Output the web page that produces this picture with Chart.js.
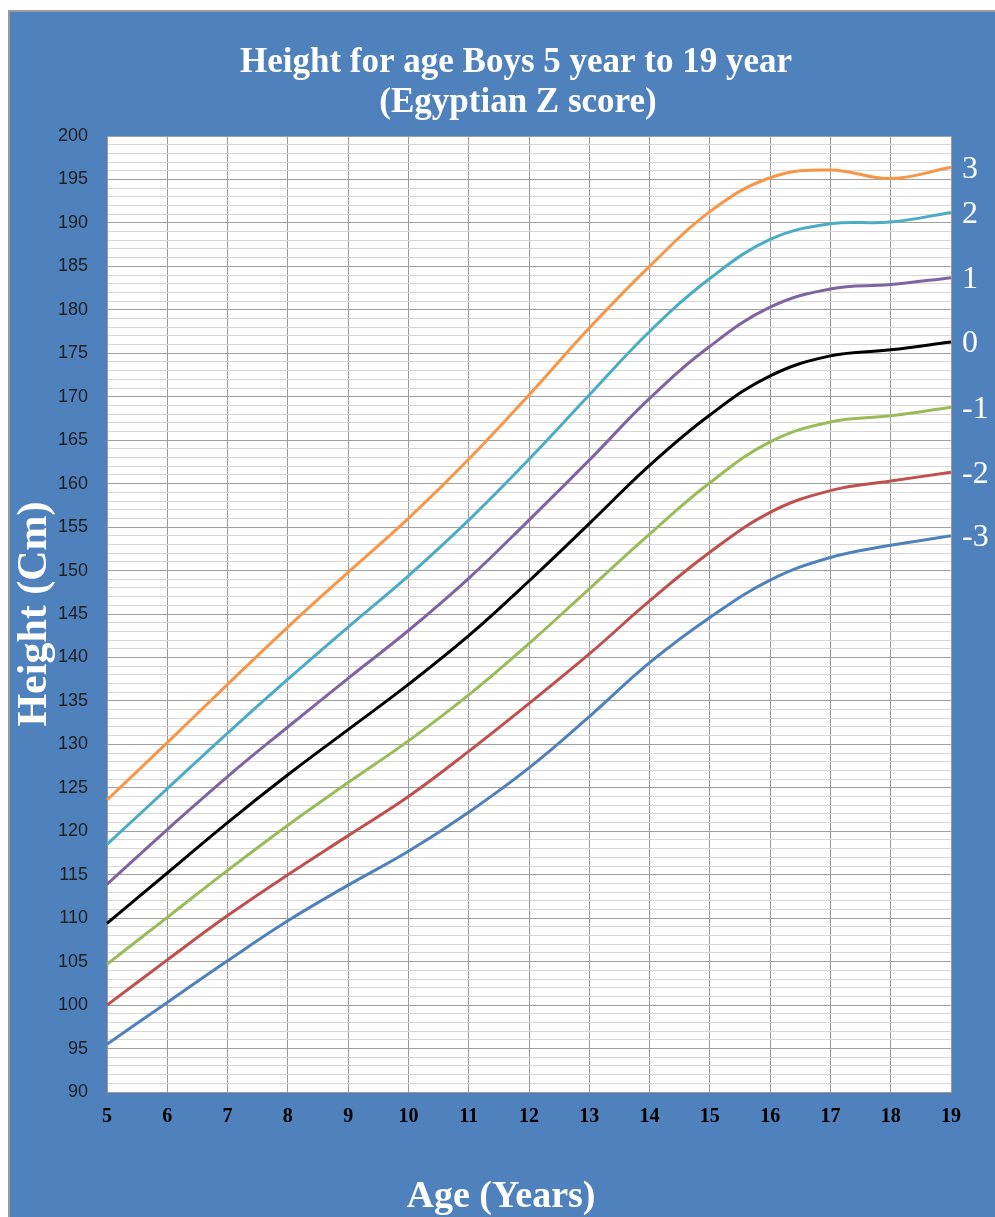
<!doctype html>
<html>
<head>
    <title>Height for age Boys</title>
    <meta charset="UTF-8">
    <script src="https://cdn.jsdelivr.net/npm/chart.js@4.4.1/dist/chart.umd.min.js"></script>
    <style>
        body { margin: 0; background: #ffffff; }
        #frame {
            position: absolute;
            left: 8px;
            top: 10px;
            width: 985px;
            height: 1205px;
            border-left: 2px solid #9a9a9a;
            border-top: 2px solid #9a9a9a;
            background-color: #4f81bd;
        }
        canvas { display: block; }
    </style>
</head>
<body>
<div id="frame">
    <canvas id="chart-area" width="985" height="1205"></canvas>
</div>
<script>
    // ages (years) and height in cm for each z-score curve
    var ages = [5, 6, 7, 8, 9, 10, 11, 12, 13, 14, 15, 16, 17, 18, 19];
    var zPlus3  = [123.6, 130.2, 136.9, 143.5, 149.8, 156.0, 162.8, 170.2, 177.9, 185.0, 191.3, 195.2, 196.1, 195.1, 196.4];
    var zPlus2  = [118.5, 124.9, 131.3, 137.5, 143.5, 149.4, 155.8, 162.8, 170.2, 177.5, 183.6, 188.1, 189.9, 190.1, 191.2];
    var zPlus1  = [113.9, 120.2, 126.3, 132.0, 137.6, 143.1, 149.1, 155.8, 162.7, 169.8, 175.8, 180.3, 182.4, 182.9, 183.7];
    var zMedian = [109.4, 115.2, 121.0, 126.5, 131.7, 136.9, 142.5, 148.8, 155.4, 162.1, 167.9, 172.4, 174.7, 175.4, 176.3];
    var zMinus1 = [104.7, 110.1, 115.5, 120.7, 125.6, 130.4, 135.7, 141.6, 147.9, 154.2, 160.1, 164.8, 167.1, 167.8, 168.8];
    var zMinus2 = [100.0, 105.2, 110.3, 115.0, 119.5, 124.0, 129.2, 134.7, 140.4, 146.5, 152.1, 156.7, 159.2, 160.3, 161.3];
    var zMinus3 = [95.5, 100.3, 105.1, 109.7, 113.8, 117.7, 122.2, 127.3, 133.2, 139.4, 144.6, 148.9, 151.5, 152.9, 154.0];

    var zLabels = ['3', '2', '1', '0', '-1', '-2', '-3'];
    var zSeries = [zPlus3, zPlus2, zPlus1, zMedian, zMinus1, zMinus2, zMinus3];
    var zColors = ['#f79646', '#4bacc6', '#8064a2', '#000000', '#9bbb59', '#c0504d', '#4f81bd'];

    var titleLines = ['Height for age Boys 5 year to 19 year', '(Egyptian Z score)'];
    var xTitle = 'Age (Years)';

    var datasets = [];
    for (var i = 0; i < zSeries.length; i++) {
        datasets.push({
            label: zLabels[i],
            data: zSeries[i],
            borderColor: zColors[i],
            backgroundColor: zColors[i],
            borderWidth: 3,
            pointRadius: 0,
            tension: 0.4,
            fill: false
        });
    }

    // white plot area, titles, z labels at right end of each curve
    var decor = {
        id: 'decor',
        beforeDraw: function (chart) {
            var a = chart.chartArea, ctx = chart.ctx;
            ctx.save();
            ctx.fillStyle = '#ffffff';
            ctx.fillRect(a.left, a.top, a.right - a.left, a.bottom - a.top);
            ctx.restore();
        },
        afterDraw: function (chart) {
            var ctx = chart.ctx, y = chart.scales.y, a = chart.chartArea;
            ctx.save();
            ctx.fillStyle = '#ffffff';
            ctx.textAlign = 'center';
            ctx.textBaseline = 'middle';
            ctx.font = 'bold 35px "Liberation Serif", "DejaVu Serif", serif';
            ctx.fillText(titleLines[0], 506, 51);
            ctx.fillText(titleLines[1], 508, 91);

            ctx.font = 'bold 38px "Liberation Serif", "DejaVu Serif", serif';
            ctx.fillText(xTitle, 491, 1185);

            ctx.textAlign = 'left';
            ctx.font = '32px "Liberation Serif", "DejaVu Serif", serif';
            for (var i = 0; i < zSeries.length; i++) {
                var last = zSeries[i][zSeries[i].length - 1];
                ctx.fillText(zLabels[i], a.right + 11, y.getPixelForValue(last) + 2);
            }
            ctx.restore();
        }
    };

    var config = {
        type: 'line',
        data: {
            labels: ages,
            datasets: datasets
        },
        options: {
            responsive: false,
            animation: false,
            layout: {
                padding: { top: 124, right: 44, bottom: 0, left: 0 }
            },
            plugins: {
                legend: { display: false },
                title: { display: false },
                tooltip: { enabled: false }
            },
            scales: {
                x: {
                    type: 'category',
                    offset: false,
                    grid: { color: '#999999', lineWidth: 1, drawTicks: false },
                    border: { color: '#999999' },
                    ticks: {
                        color: '#000000',
                        padding: 13,
                        maxRotation: 0,
                        autoSkip: false,
                        font: { family: '"Liberation Serif", serif', size: 20, weight: 'bold' }
                    },
                    afterFit: function (scale) { scale.height = 125; }
                },
                y: {
                    min: 90,
                    max: 200,
                    grid: {
                        drawTicks: false,
                        lineWidth: 1,
                        color: function (c) {
                            return c.tick && c.tick.value % 5 === 0 ? '#a0a0a0' : '#d6d6d6';
                        }
                    },
                    border: { color: '#999999' },
                    ticks: {
                        stepSize: 1,
                        autoSkip: false,
                        padding: 19,
                        color: '#1f1f1f',
                        font: { family: '"Liberation Sans", Arial, sans-serif', size: 18 },
                        callback: function (v) { return v % 5 === 0 ? v : ''; }
                    },
                    title: {
                        display: true,
                        text: 'Height (Cm)',
                        color: '#ffffff',
                        padding: { top: 4, bottom: 0 },
                        font: { family: '"Liberation Serif", serif', size: 42, weight: 'bold', lineHeight: 1 }
                    },
                    afterFit: function (scale) { scale.width = 97; }
                }
            }
        },
        plugins: [decor]
    };

    var ctx = document.getElementById('chart-area').getContext('2d');
    window.myChart = new Chart(ctx, config);
</script>
</body>
</html>
